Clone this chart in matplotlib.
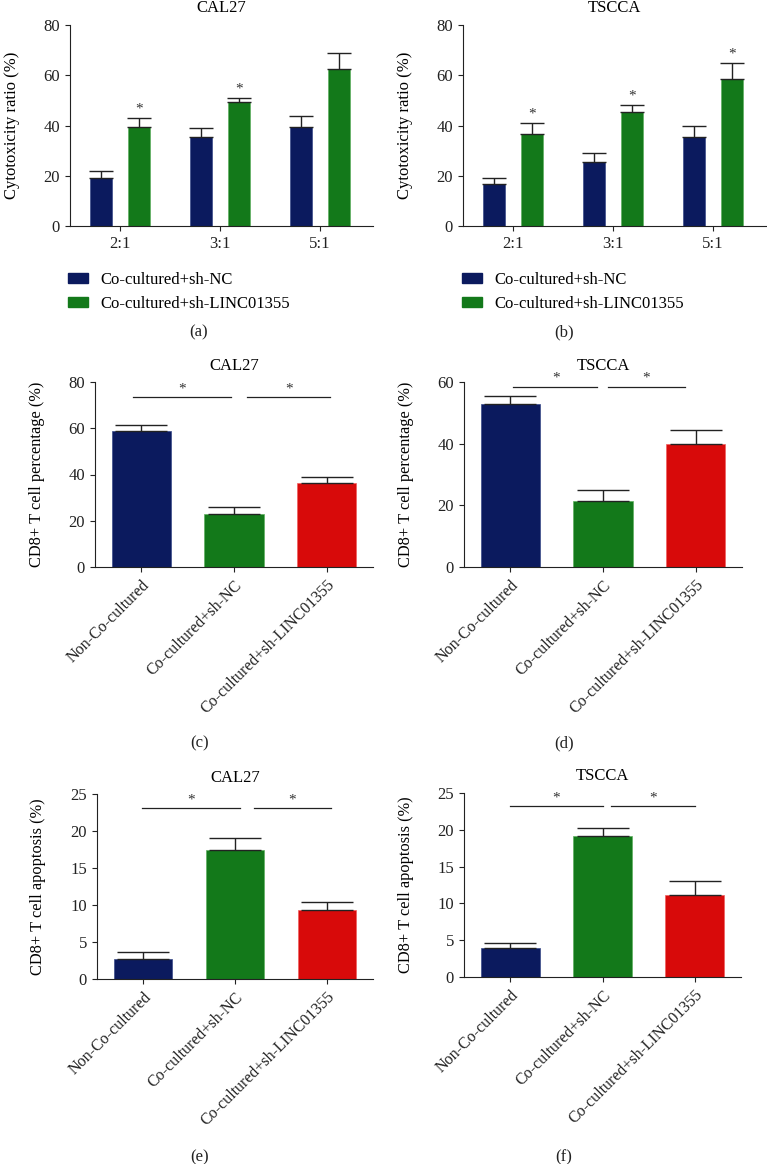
import numpy as np
import matplotlib
matplotlib.use("Agg")
import matplotlib.pyplot as plt
from matplotlib.patches import Patch

plt.rcParams['font.family'] = ['Liberation Serif', 'DejaVu Serif']
plt.rcParams['font.size'] = 12

navy = '#0b1a5e'
green = '#13791a'
red = '#d80a0a'

# (a)/(b) cytotoxicity
ratios = ['2:1', '3:1', '5:1']
legend_labels = ['Co-cultured+sh-NC', 'Co-cultured+sh-LINC01355']
cal27_nc = [19.3, 35.4, 39.4]
cal27_nc_err = [2.7, 3.6, 4.5]
cal27_sh = [39.4, 49.3, 62.3]
cal27_sh_err = [3.6, 1.5, 6.7]
cal27_stars = [True, True, False]
tscca_nc = [16.6, 25.4, 35.4]
tscca_nc_err = [2.4, 3.6, 4.5]
tscca_sh = [36.5, 45.4, 58.4]
tscca_sh_err = [4.5, 2.6, 6.6]
tscca_stars = [True, True, True]

# (c)-(f) three groups
groups = ['Non-Co-cultured', 'Co-cultured+sh-NC', 'Co-cultured+sh-LINC01355']
cd8_cal27 = [58.6, 22.9, 36.5]
cd8_cal27_err = [3.0, 3.0, 2.6]
cd8_tscca = [52.9, 21.5, 39.8]
cd8_tscca_err = [2.6, 3.4, 4.5]
apo_cal27 = [2.7, 17.5, 9.3]
apo_cal27_err = [0.95, 1.6, 1.1]
apo_tscca = [3.95, 19.1, 11.2]
apo_tscca_err = [0.7, 1.1, 1.9]

W, H = 767, 1164
fig = plt.figure(figsize=(W / 100, H / 100), dpi=100)


def make_ax(left, right, top, bottom):
    ax = fig.add_axes([left / W, 1 - bottom / H, (right - left) / W, (bottom - top) / H])
    for s in ['top', 'right']:
        ax.spines[s].set_visible(False)
    for s in ['left', 'bottom']:
        ax.spines[s].set_linewidth(0.8)
        ax.spines[s].set_color('#222222')
    ax.tick_params(direction='out', length=3.8, width=0.8, colors='#222222',
                   labelsize=12, labelcolor='#222222')
    return ax


def cyto_panel(ax, nc, nc_err, sh, sh_err, stars, title):
    x = np.arange(len(ratios))
    w = 0.22
    ax.bar(x - 0.19, nc, w, color=navy, edgecolor='#3a4a8a', linewidth=0.5,
           yerr=[np.zeros(3), nc_err], capsize=8.5,
           error_kw=dict(elinewidth=1, capthick=1, ecolor='#222222'))
    ax.bar(x + 0.19, sh, w, color=green, edgecolor='#5fb060', linewidth=0.5,
           yerr=[np.zeros(3), sh_err], capsize=8.5,
           error_kw=dict(elinewidth=1, capthick=1, ecolor='#222222'))
    for i in range(3):
        if stars[i]:
            ax.text(x[i] + 0.19, sh[i] + sh_err[i] + 1.0, '*', ha='center', va='bottom',
                    fontsize=11, color='#333333')
    ax.set_xlim(-0.5, 2.53)
    ax.set_ylim(0, 80)
    ax.set_yticks([0, 20, 40, 60, 80])
    ax.set_xticks(x)
    ax.set_xticklabels(ratios)
    ax.set_ylabel('Cytotoxicity ratio (%)', fontsize=12, labelpad=17)
    ax.set_title(title, fontsize=12, pad=9)


def group_panel(ax, vals, errs, ylim, yticks, ylabel, title, sig_y, lines, star_x):
    x = np.arange(3)
    ax.bar(x, vals, 0.64, color=[navy, green, red],
           edgecolor=['#3a4a8a', '#5fb060', '#f06060'], linewidth=0.5,
           yerr=[np.zeros(3), errs], capsize=18.5,
           error_kw=dict(elinewidth=1, capthick=1, ecolor='#222222'))
    for (x0, x1) in lines:
        ax.plot([x0, x1], [sig_y, sig_y], color='#222222', lw=0.9, clip_on=False)
    for sx in star_x:
        ax.text(sx, sig_y + ylim * 0.01, '*', ha='center', va='bottom', fontsize=11,
                color='#333333', clip_on=False)
    ax.set_xlim(-0.5, 2.5)
    ax.set_ylim(0, ylim)
    ax.set_yticks(yticks)
    ax.set_xticks(x)
    ax.set_xticklabels(groups, rotation=45, ha='right', rotation_mode='anchor',
                       fontsize=11.5)
    ax.set_ylabel(ylabel, fontsize=11.8, labelpad=17)
    ax.set_title(title, fontsize=12, pad=9)


ax_a = make_ax(70, 373, 25, 226)
cyto_panel(ax_a, cal27_nc, cal27_nc_err, cal27_sh, cal27_sh_err, cal27_stars, 'CAL27')
ax_b = make_ax(463, 766, 25, 226)
cyto_panel(ax_b, tscca_nc, tscca_nc_err, tscca_sh, tscca_sh_err, tscca_stars, 'TSCCA')

handles = [Patch(color=navy), Patch(color=green)]
for xl in [68, 462]:
    fig.legend(handles, legend_labels, loc='upper left',
               bbox_to_anchor=(xl / W, 1 - 272 / H), frameon=False, fontsize=12,
               handlelength=1.2, handleheight=0.55, handletextpad=0.75, labelspacing=0.45,
               borderaxespad=0, borderpad=0)

ax_c = make_ax(95, 373, 382, 567)
group_panel(ax_c, cd8_cal27, cd8_cal27_err, 80, [0, 20, 40, 60, 80],
            'CD8+ T cell percentage (%)', 'CAL27', 73.4,
            [(-0.09, 0.97), (1.14, 2.04)], [0.44, 1.59])
ax_d = make_ax(464, 742, 382, 567)
group_panel(ax_d, cd8_tscca, cd8_tscca_err, 60, [0, 20, 40, 60],
            'CD8+ T cell percentage (%)', 'TSCCA', 58.5,
            [(0.03, 0.94), (1.05, 1.89)], [0.49, 1.47])
ax_e = make_ax(97, 373, 794, 979)
group_panel(ax_e, apo_cal27, apo_cal27_err, 25, [0, 5, 10, 15, 20, 25],
            'CD8+ T cell apoptosis (%)', 'CAL27', 23.05,
            [(-0.01, 1.05), (1.21, 2.04)], [0.52, 1.62])
ax_f = make_ax(464, 741, 793, 977)
group_panel(ax_f, apo_tscca, apo_tscca_err, 25, [0, 5, 10, 15, 20, 25],
            'CD8+ T cell apoptosis (%)', 'TSCCA', 23.2,
            [(0.0, 1.0), (1.09, 2.0)], [0.50, 1.55])

for lab, (px, py) in zip(['(a)', '(b)', '(c)', '(d)', '(e)', '(f)'],
                         [(199, 332), (564, 332), (200, 743), (564, 743),
                          (200, 1157), (564, 1157)]):
    fig.text(px / W, 1 - py / H, lab, ha='center', va='center', fontsize=12,
             color='#222222')

fig.savefig('out.png', dpi=100)
